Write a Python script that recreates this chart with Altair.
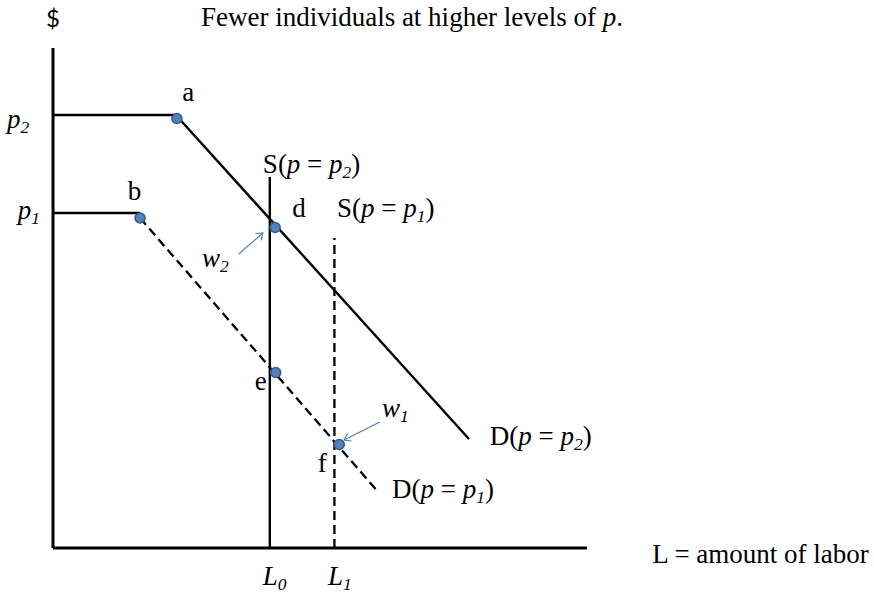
import math

import altair as alt
import pandas as pd

# ---------------------------------------------------------------------------
# Labour-market diagram: labour L on the horizontal axis, $ on the vertical.
# Both axes run from 0 to 10 in the units used below.
# ---------------------------------------------------------------------------
CANVAS_W, CANVAS_H = 874, 609
X_PX = 53.4          # pixels per unit of L
Y_PX = 50.0          # pixels per unit of $
ORIGIN_PX = (53.0, 548.0)

AXIS_MAX = 10.0

# output-price levels and the two labour quantities
P2, P1 = 8.66, 6.70
L0, L1 = 4.06, 5.27
S2_TOP, S1_TOP = 7.42, 6.20

# demand at p = p2 : flat at p2 out to point a, then falling
D2_L = [0.0, 2.30, 7.79]
D2_W = [P2, P2, 2.18]
# demand at p = p1 : flat at p1 out to point b, then (dashed) falling
D1_FLAT_L = [0.0, 1.63]
D1_FLAT_W = [P1, P1]
D1_FALL_L = [1.63, 6.09]
D1_FALL_W = [6.60, 1.12]

# marked points
PT_NAME = ["a", "b", "d", "e", "f"]
PT_L = [2.32, 1.63, 4.16, 4.17, 5.36]
PT_W = [8.59, 6.60, 6.41, 3.51, 2.07]

# wage call-out arrows (tail -> head)
ARROW_NAME = ["w2", "w1"]
ARROW_FROM_L = [3.48, 6.12]
ARROW_FROM_W = [5.88, 2.52]
ARROW_TO_L = [3.93, 5.45]
ARROW_TO_W = [6.30, 2.16]

# text labels: anchor (left edge, baseline) and runs of
# r = roman, i = italic, s = italic subscript
LABELS = [
    ("title", 2.77, 10.44, [("Fewer individuals at higher levels of ", "r"), ("p", "i"), (".", "r")]),
    ("a", 2.42, 8.94, [("a", "r")]),
    ("b", 1.40, 6.96, [("b", "r")]),
    ("d", 4.48, 6.62, [("d", "r")]),
    ("e", 3.78, 3.16, [("e", "r")]),
    ("f", 4.96, 1.52, [("f", "r")]),
    ("S2", 3.93, 7.50, [("S(", "r"), ("p", "i"), (" = ", "r"), ("p", "i"), ("2", "s"), (")", "r")]),
    ("S1", 5.32, 6.62, [("S(", "r"), ("p", "i"), (" = ", "r"), ("p", "i"), ("1", "s"), (")", "r")]),
    ("D2", 8.18, 2.06, [("D(", "r"), ("p", "i"), (" = ", "r"), ("p", "i"), ("2", "s"), (")", "r")]),
    ("D1", 6.35, 1.00, [("D(", "r"), ("p", "i"), (" = ", "r"), ("p", "i"), ("1", "s"), (")", "r")]),
    ("w2", 2.79, 5.62, [("w", "i"), ("2", "s")]),
    ("w1", 6.16, 2.62, [("w", "i"), ("1", "s")]),
    ("p2", -0.86, 8.40, [("p", "i"), ("2", "s")]),
    ("p1", -0.66, 6.58, [("p", "i"), ("1", "s")]),
    ("L0", 3.93, -0.74, [("L", "i"), ("0", "s")]),
    ("L1", 5.15, -0.74, [("L", "i"), ("1", "s")]),
    ("xlab", 11.22, -0.30, [("L = amount of labor", "r")]),
]
DOLLAR_L, DOLLAR_W = 0.0, 10.42

# ---------------------------------------------------------------------------
SERIF = "Liberation Serif"
SANS = "Lato"
FONT_SIZE = 27
SUB_SIZE = 17.5
SUB_DROP_PX = 5
POINT_FILL = "#4F81BD"
POINT_EDGE = "#385D8A"
ARROW_COLOR = "#4A7EBB"

# Times-compatible advance widths (per 1000 em) used to lay out mixed runs
ROMAN_W = {
    " ": 250, ".": 250, "(": 333, ")": 333, "=": 564, "D": 722, "F": 556, "L": 611, "S": 556,
    "a": 444, "b": 500, "d": 500, "e": 444, "f": 333, "g": 500, "h": 500, "i": 278, "l": 278,
    "m": 778, "n": 500, "o": 500, "r": 333, "s": 389, "t": 278, "u": 500, "v": 500, "w": 722,
}
ITALIC_W = {"p": 500, "w": 667, "L": 556, "0": 500, "1": 500, "2": 500}

x_scale = alt.Scale(domain=[-ORIGIN_PX[0] / X_PX, (CANVAS_W - ORIGIN_PX[0]) / X_PX], nice=False, zero=False)
y_scale = alt.Scale(domain=[-(CANVAS_H - ORIGIN_PX[1]) / Y_PX, ORIGIN_PX[1] / Y_PX], nice=False, zero=False)


def X(field="L"):
    return alt.X(f"{field}:Q", scale=x_scale, axis=None)


def Y(field="W"):
    return alt.Y(f"{field}:Q", scale=y_scale, axis=None)


def seg(name, ls, ws):
    return pd.DataFrame({"seg": name, "i": range(len(ls)), "L": ls, "W": ws})


def line_layer(frames, width, color="black", dash=None):
    kw = dict(color=color, strokeWidth=width, strokeCap="butt", strokeJoin="miter")
    if dash:
        kw["strokeDash"] = dash
    return alt.Chart(pd.concat(frames, ignore_index=True)).mark_line(**kw).encode(
        x=X(), y=Y(), detail="seg:N", order="i:Q"
    )


# axes
axes = line_layer(
    [seg("yaxis", [0, 0], [0, AXIS_MAX]), seg("xaxis", [0, AXIS_MAX], [0, 0])], 3
)
# price floors (horizontal runs)
flats = line_layer(
    [seg("p2flat", D2_L[:2], D2_W[:2]), seg("p1flat", D1_FLAT_L, D1_FLAT_W)], 2.7
)
# demand at p2 (falling part) and supply at p2
solid = line_layer(
    [seg("D2", D2_L[1:], D2_W[1:]), seg("S2", [L0, L0], [0, S2_TOP])], 2.4
)
# dashed schedules at p1
dashed = line_layer(
    [seg("D1", D1_FALL_L, D1_FALL_W), seg("S1", [L1, L1], [0, S1_TOP])], 2.3, dash=[9, 5]
)

# arrows
shafts = line_layer(
    [seg(n, [a, b], [c, d]) for n, a, b, c, d in zip(ARROW_NAME, ARROW_FROM_L, ARROW_TO_L, ARROW_FROM_W, ARROW_TO_W)],
    1.1,
    color=ARROW_COLOR,
)
heads_df = pd.DataFrame({
    "L": ARROW_TO_L,
    "W": ARROW_TO_W,
    "angle": [
        math.degrees(math.atan2(-(w2 - w1) * Y_PX, (l2 - l1) * X_PX)) % 360
        for l1, l2, w1, w2 in zip(ARROW_FROM_L, ARROW_TO_L, ARROW_FROM_W, ARROW_TO_W)
    ],
})
heads = alt.Chart(heads_df).mark_point(
    shape="M-1,-0.7L0,0L-1,0.7", filled=False, size=150, color=ARROW_COLOR, strokeWidth=1.1, opacity=1
).encode(x=X(), y=Y(), angle=alt.Angle("angle:Q", scale=None))

# points
points = alt.Chart(pd.DataFrame({"name": PT_NAME, "L": PT_L, "W": PT_W})).mark_point(
    shape="circle", filled=True, size=100, fill=POINT_FILL, stroke=POINT_EDGE, strokeWidth=1.6,
    fillOpacity=1, strokeOpacity=1, opacity=1,
).encode(x=X(), y=Y())


def advance(text, table, size):
    return sum(table.get(c, 500) for c in text) / 1000.0 * size


# text runs laid out left to right; surrounding blanks become offsets
rows = []
for name, l0, w0, runs in LABELS:
    cursor = 0.0
    for text, style in runs:
        size = SUB_SIZE if style == "s" else FONT_SIZE
        table = ROMAN_W if style == "r" else ITALIC_W
        lead = len(text) - len(text.lstrip(" "))
        rows.append({
            "label": name,
            "text": text.strip(" "),
            "style": style,
            "L": l0 + (cursor + advance(" " * lead, table, size)) / X_PX,
            "W": w0 - (SUB_DROP_PX / Y_PX if style == "s" else 0.0),
        })
        cursor += advance(text, table, size)
runs_df = pd.DataFrame(rows)


def text_layer(style, size, font_style):
    return alt.Chart(runs_df[runs_df["style"] == style]).mark_text(
        font=SERIF, fontSize=size, fontStyle=font_style, align="left", baseline="alphabetic", color="black"
    ).encode(x=X(), y=Y(), text="text:N")


roman = text_layer("r", FONT_SIZE, "normal")
italic = text_layer("i", FONT_SIZE, "italic")
subs = text_layer("s", SUB_SIZE, "italic")

dollar = alt.Chart(pd.DataFrame({"L": [DOLLAR_L], "W": [DOLLAR_W], "text": ["$"]})).mark_text(
    font=SANS, fontSize=24, align="center", baseline="alphabetic", color="black"
).encode(x=X(), y=Y(), text="text:N")

chart = alt.layer(
    axes, flats, solid, dashed, shafts, heads, points, roman, italic, subs, dollar
).properties(
    width=CANVAS_W,
    height=CANVAS_H,
    padding=0,
    autosize=alt.AutoSizeParams(type="none"),
    background="white",
).configure_view(stroke=None)

chart.save("out.html", embed_options={"renderer": "svg", "actions": False})
